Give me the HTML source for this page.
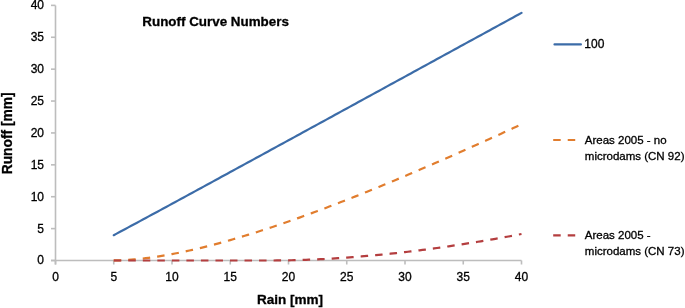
<!DOCTYPE html>
<html><head><meta charset="utf-8"><style>
html,body{margin:0;padding:0;background:#fff;}
svg{display:block;will-change:transform;}
text{font-family:"Liberation Sans",sans-serif;fill:#000;stroke:#000;stroke-width:0.3px;}
</style></head><body>
<svg width="685" height="308" viewBox="0 0 685 308">
<rect width="685" height="308" fill="#fff"/>
<g stroke="#BDBDBD" stroke-width="1.6" fill="none">
<path d="M55.5,5.4 V264.5" />
<path d="M51,260.5 H521.5" />
<path d="M51,260.50 H55.5" />
<path d="M51,228.61 H55.5" />
<path d="M51,196.72 H55.5" />
<path d="M51,164.83 H55.5" />
<path d="M51,132.94 H55.5" />
<path d="M51,101.05 H55.5" />
<path d="M51,69.16 H55.5" />
<path d="M51,37.27 H55.5" />
<path d="M51,5.38 H55.5" />
<path d="M55.50,260.5 V264.5" />
<path d="M113.75,260.5 V264.5" />
<path d="M172.00,260.5 V264.5" />
<path d="M230.25,260.5 V264.5" />
<path d="M288.50,260.5 V264.5" />
<path d="M346.75,260.5 V264.5" />
<path d="M405.00,260.5 V264.5" />
<path d="M463.25,260.5 V264.5" />
<path d="M521.50,260.5 V264.5" />
</g>
<g font-size="12">
<text x="44" y="264.40" text-anchor="end">0</text>
<text x="44" y="232.51" text-anchor="end">5</text>
<text x="44" y="200.62" text-anchor="end">10</text>
<text x="44" y="168.73" text-anchor="end">15</text>
<text x="44" y="136.84" text-anchor="end">20</text>
<text x="44" y="104.95" text-anchor="end">25</text>
<text x="44" y="73.06" text-anchor="end">30</text>
<text x="44" y="41.17" text-anchor="end">35</text>
<text x="44" y="8.90" text-anchor="end">40</text>
<text x="55.50" y="281.3" text-anchor="middle">0</text>
<text x="113.75" y="281.3" text-anchor="middle">5</text>
<text x="172.00" y="281.3" text-anchor="middle">10</text>
<text x="230.25" y="281.3" text-anchor="middle">15</text>
<text x="288.50" y="281.3" text-anchor="middle">20</text>
<text x="346.75" y="281.3" text-anchor="middle">25</text>
<text x="405.00" y="281.3" text-anchor="middle">30</text>
<text x="463.25" y="281.3" text-anchor="middle">35</text>
<text x="521.50" y="281.3" text-anchor="middle">40</text>
</g>
<g fill="none" stroke-width="2.2" stroke-linejoin="round">
<path d="M113.75,235.16 L116.66,233.61 L119.58,232.06 L122.49,230.51 L125.40,228.95 L128.31,227.39 L131.23,225.82 L134.14,224.26 L137.05,222.69 L139.96,221.12 L142.88,219.55 L145.79,217.98 L148.70,216.40 L151.61,214.83 L154.53,213.25 L157.44,211.68 L160.35,210.10 L163.26,208.52 L166.18,206.94 L169.09,205.36 L172.00,203.78 L174.91,202.20 L177.82,200.62 L180.74,199.04 L183.65,197.46 L186.56,195.87 L189.47,194.29 L192.39,192.70 L195.30,191.12 L198.21,189.53 L201.12,187.95 L204.04,186.36 L206.95,184.78 L209.86,183.19 L212.78,181.60 L215.69,180.02 L218.60,178.43 L221.51,176.84 L224.43,175.26 L227.34,173.67 L230.25,172.08 L233.16,170.49 L236.08,168.90 L238.99,167.31 L241.90,165.73 L244.81,164.14 L247.72,162.55 L250.64,160.96 L253.55,159.37 L256.46,157.78 L259.38,156.19 L262.29,154.60 L265.20,153.01 L268.11,151.42 L271.02,149.83 L273.94,148.24 L276.85,146.65 L279.76,145.06 L282.68,143.47 L285.59,141.88 L288.50,140.29 L291.41,138.70 L294.33,137.11 L297.24,135.51 L300.15,133.92 L303.06,132.33 L305.98,130.74 L308.89,129.15 L311.80,127.56 L314.71,125.97 L317.62,124.37 L320.54,122.78 L323.45,121.19 L326.36,119.60 L329.28,118.01 L332.19,116.42 L335.10,114.82 L338.01,113.23 L340.93,111.64 L343.84,110.05 L346.75,108.46 L349.66,106.86 L352.57,105.27 L355.49,103.68 L358.40,102.09 L361.31,100.50 L364.23,98.90 L367.14,97.31 L370.05,95.72 L372.96,94.13 L375.88,92.53 L378.79,90.94 L381.70,89.35 L384.61,87.76 L387.53,86.16 L390.44,84.57 L393.35,82.98 L396.26,81.38 L399.18,79.79 L402.09,78.20 L405.00,76.61 L407.91,75.01 L410.82,73.42 L413.74,71.83 L416.65,70.24 L419.56,68.64 L422.48,67.05 L425.39,65.46 L428.30,63.86 L431.21,62.27 L434.12,60.68 L437.04,59.08 L439.95,57.49 L442.86,55.90 L445.78,54.30 L448.69,52.71 L451.60,51.12 L454.51,49.53 L457.43,47.93 L460.34,46.34 L463.25,44.75 L466.16,43.15 L469.07,41.56 L471.99,39.97 L474.90,38.37 L477.81,36.78 L480.73,35.19 L483.64,33.59 L486.55,32.00 L489.46,30.41 L492.38,28.81 L495.29,27.22 L498.20,25.63 L501.11,24.03 L504.03,22.44 L506.94,20.84 L509.85,19.25 L512.76,17.66 L515.67,16.06 L518.59,14.47 L521.50,12.88" stroke="#3C6CA8" stroke-linecap="round"/>
<path d="M113.75,260.46 L116.66,260.40 L119.58,260.30 L122.49,260.18 L125.40,260.02 L128.31,259.83 L131.23,259.62 L134.14,259.38 L137.05,259.11 L139.96,258.82 L142.88,258.50 L145.79,258.16 L148.70,257.79 L151.61,257.40 L154.53,256.99 L157.44,256.56 L160.35,256.10 L163.26,255.63 L166.18,255.13 L169.09,254.62 L172.00,254.08 L174.91,253.53 L177.82,252.96 L180.74,252.38 L183.65,251.77 L186.56,251.15 L189.47,250.52 L192.39,249.86 L195.30,249.19 L198.21,248.51 L201.12,247.81 L204.04,247.10 L206.95,246.38 L209.86,245.64 L212.78,244.88 L215.69,244.12 L218.60,243.34 L221.51,242.55 L224.43,241.74 L227.34,240.93 L230.25,240.10 L233.16,239.26 L236.08,238.41 L238.99,237.55 L241.90,236.68 L244.81,235.80 L247.72,234.91 L250.64,234.01 L253.55,233.10 L256.46,232.18 L259.38,231.25 L262.29,230.31 L265.20,229.36 L268.11,228.41 L271.02,227.44 L273.94,226.47 L276.85,225.48 L279.76,224.49 L282.68,223.50 L285.59,222.49 L288.50,221.48 L291.41,220.46 L294.33,219.43 L297.24,218.39 L300.15,217.35 L303.06,216.30 L305.98,215.24 L308.89,214.18 L311.80,213.11 L314.71,212.03 L317.62,210.95 L320.54,209.86 L323.45,208.77 L326.36,207.67 L329.28,206.56 L332.19,205.45 L335.10,204.33 L338.01,203.21 L340.93,202.08 L343.84,200.94 L346.75,199.81 L349.66,198.66 L352.57,197.51 L355.49,196.36 L358.40,195.20 L361.31,194.03 L364.23,192.86 L367.14,191.69 L370.05,190.51 L372.96,189.33 L375.88,188.14 L378.79,186.95 L381.70,185.75 L384.61,184.55 L387.53,183.34 L390.44,182.13 L393.35,180.92 L396.26,179.70 L399.18,178.48 L402.09,177.26 L405.00,176.03 L407.91,174.80 L410.82,173.56 L413.74,172.32 L416.65,171.08 L419.56,169.83 L422.48,168.58 L425.39,167.33 L428.30,166.07 L431.21,164.81 L434.12,163.55 L437.04,162.28 L439.95,161.01 L442.86,159.74 L445.78,158.46 L448.69,157.18 L451.60,155.90 L454.51,154.61 L457.43,153.32 L460.34,152.03 L463.25,150.74 L466.16,149.44 L469.07,148.14 L471.99,146.84 L474.90,145.54 L477.81,144.23 L480.73,142.92 L483.64,141.61 L486.55,140.29 L489.46,138.97 L492.38,137.65 L495.29,136.33 L498.20,135.00 L501.11,133.68 L504.03,132.35 L506.94,131.02 L509.85,129.68 L512.76,128.34 L515.67,127.01 L518.59,125.66 L521.50,124.32" stroke="#E17D2E" stroke-dasharray="7.5 7.03"/>
<path d="M113.75,260.50 L116.66,260.50 L119.58,260.50 L122.49,260.50 L125.40,260.50 L128.31,260.50 L131.23,260.50 L134.14,260.50 L137.05,260.50 L139.96,260.50 L142.88,260.50 L145.79,260.50 L148.70,260.50 L151.61,260.50 L154.53,260.50 L157.44,260.50 L160.35,260.50 L163.26,260.50 L166.18,260.50 L169.09,260.50 L172.00,260.50 L174.91,260.50 L177.82,260.50 L180.74,260.50 L183.65,260.50 L186.56,260.50 L189.47,260.50 L192.39,260.50 L195.30,260.50 L198.21,260.50 L201.12,260.50 L204.04,260.50 L206.95,260.50 L209.86,260.50 L212.78,260.50 L215.69,260.50 L218.60,260.50 L221.51,260.50 L224.43,260.50 L227.34,260.50 L230.25,260.50 L233.16,260.50 L236.08,260.50 L238.99,260.50 L241.90,260.50 L244.81,260.50 L247.72,260.50 L250.64,260.50 L253.55,260.50 L256.46,260.50 L259.38,260.50 L262.29,260.50 L265.20,260.50 L268.11,260.50 L271.02,260.50 L273.94,260.49 L276.85,260.47 L279.76,260.44 L282.68,260.40 L285.59,260.36 L288.50,260.31 L291.41,260.25 L294.33,260.18 L297.24,260.10 L300.15,260.01 L303.06,259.92 L305.98,259.82 L308.89,259.71 L311.80,259.59 L314.71,259.47 L317.62,259.34 L320.54,259.20 L323.45,259.05 L326.36,258.89 L329.28,258.73 L332.19,258.56 L335.10,258.38 L338.01,258.20 L340.93,258.01 L343.84,257.81 L346.75,257.60 L349.66,257.39 L352.57,257.17 L355.49,256.94 L358.40,256.71 L361.31,256.47 L364.23,256.22 L367.14,255.97 L370.05,255.71 L372.96,255.44 L375.88,255.17 L378.79,254.89 L381.70,254.60 L384.61,254.31 L387.53,254.01 L390.44,253.70 L393.35,253.39 L396.26,253.07 L399.18,252.74 L402.09,252.41 L405.00,252.08 L407.91,251.73 L410.82,251.38 L413.74,251.03 L416.65,250.67 L419.56,250.30 L422.48,249.93 L425.39,249.55 L428.30,249.16 L431.21,248.77 L434.12,248.38 L437.04,247.97 L439.95,247.57 L442.86,247.15 L445.78,246.74 L448.69,246.31 L451.60,245.88 L454.51,245.45 L457.43,245.01 L460.34,244.56 L463.25,244.11 L466.16,243.66 L469.07,243.19 L471.99,242.73 L474.90,242.26 L477.81,241.78 L480.73,241.30 L483.64,240.81 L486.55,240.32 L489.46,239.82 L492.38,239.32 L495.29,238.81 L498.20,238.30 L501.11,237.79 L504.03,237.26 L506.94,236.74 L509.85,236.21 L512.76,235.67 L515.67,235.13 L518.59,234.59 L521.50,234.04" stroke="#B43E3F" stroke-dasharray="7.5 7.03"/>
</g>
<text x="142.3" y="26.3" font-size="13.4" font-weight="bold">Runoff Curve Numbers</text>
<text x="290" y="304.1" font-size="13.5" font-weight="bold" text-anchor="middle">Rain [mm]</text>
<text transform="translate(11.6,133.3) rotate(-90)" font-size="13.8" font-weight="bold" text-anchor="middle">Runoff [mm]</text>
<g stroke-width="2.2" fill="none">
<path d="M554.5,44.4 H580.9" stroke="#3C6CA8" stroke-linecap="round"/>
<path d="M553.2,140 H582" stroke="#E17D2E" stroke-dasharray="7.5 7.03"/>
<path d="M553.2,235.4 H582" stroke="#B43E3F" stroke-dasharray="7.5 7.03"/>
</g>
<g font-size="11.5">
<text x="584.3" y="47.7" font-size="12">100</text>
<text x="584.8" y="143.8">Areas 2005 - no</text>
<text x="584.8" y="159.6">microdams (CN 92)</text>
<text x="584.8" y="239.1">Areas 2005 -</text>
<text x="584.8" y="254.6">microdams (CN 73)</text>
</g>
</svg>
</body></html>
